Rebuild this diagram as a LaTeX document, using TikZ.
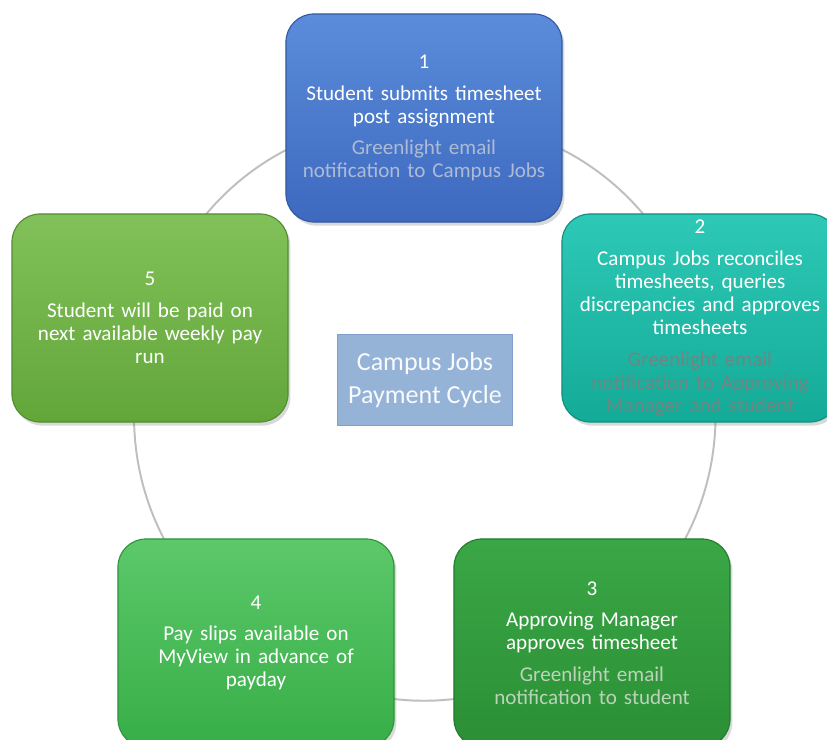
\documentclass[tikz,border=0pt]{standalone}
\usepackage{fontspec}
\setmainfont{Carlito}
\usetikzlibrary{backgrounds,shadows}

\definecolor{blueT}{HTML}{5B8CDB}
\definecolor{blueB}{HTML}{3D69BE}
\definecolor{tealT}{HTML}{2DC9B6}
\definecolor{tealB}{HTML}{14AA98}
\definecolor{dgreenT}{HTML}{3AA746}
\definecolor{dgreenB}{HTML}{2B8F35}
\definecolor{greenT}{HTML}{5CC86A}
\definecolor{greenB}{HTML}{37AE47}
\definecolor{ygreenT}{HTML}{82C159}
\definecolor{ygreenB}{HTML}{62A63A}
\definecolor{noteA}{HTML}{ADBBD4}
\definecolor{noteB}{HTML}{6F8683}
\definecolor{noteC}{HTML}{BCD3BA}
\definecolor{ringgray}{HTML}{BFBFBF}
\definecolor{titlefill}{HTML}{95B3D7}
\definecolor{titleline}{HTML}{7EA0CB}

\tikzset{
  stepbox/.style={rounded corners=0.7cm, minimum width=6.9cm, minimum height=5.2cm,
    text width=6.6cm, align=center, text=white, draw=#1B!85!black, line width=0.8pt,
    top color=#1T, bottom color=#1B,
    font=\fontsize{15}{16.4}\selectfont,
    drop shadow={opacity=0.3, shadow xshift=0.6mm, shadow yshift=-0.9mm}},
  titlebox/.style={draw=titleline, fill=titlefill, minimum width=4.375cm,
    minimum height=2.275cm, align=center, text=white!94!titlefill,
    font=\fontsize{18.5}{24}\selectfont},
  ring/.style={draw=ringgray, line width=1.4pt}
}

\begin{document}
\begin{tikzpicture}[x=0.025cm, y=-0.025cm]
\path[use as bounding box, clip] (0,0) rectangle (827,740);

\node (1) [stepbox=blue] at (424,118) {1\\[6pt]Student submits timesheet\\post assignment\\[6pt]{\color{noteA}Greenlight email\\notification to Campus Jobs}};
\node (2) [stepbox=teal] at (700,318) {2\\[6pt]Campus Jobs reconciles\\timesheets, queries\\discrepancies and approves\\timesheets\\[6pt]{\color{noteB}Greenlight email\\notification to Approving\\Manager and student}};
\node (3) [stepbox=dgreen] at (592,643) {3\\[6pt]Approving Manager\\approves timesheet\\[6pt]{\color{noteC}Greenlight email\\notification to student}};
\node (4) [stepbox=green] at (256,643) {4\\[6pt]Pay slips available on\\MyView in advance of\\payday};
\node (5) [stepbox=ygreen] at (150,318) {5\\[6pt]Student will be paid on\\next available weekly pay\\run};

\node (0) [titlebox] at (425,380) {Campus Jobs\\Payment Cycle};

\begin{scope}[on background layer]
\draw[ring] (1.center) to[bend left=36] (2.center) to[bend left=36] (3.center)
  to[bend left=36] (4.center) to[bend left=36] (5.center) to[bend left=36] (1.center);
\end{scope}
\end{tikzpicture}
\end{document}
